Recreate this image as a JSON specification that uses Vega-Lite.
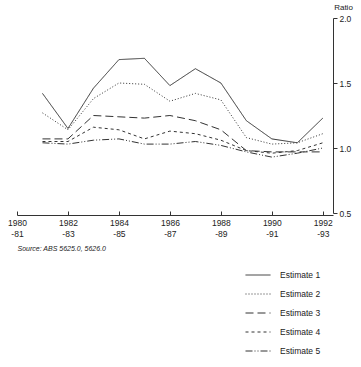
{
  "$schema": "https://vega.github.io/schema/vega-lite/v6.json",
  "autosize": "none",
  "width": 316,
  "height": 195,
  "padding": {"left": 17, "top": 18, "right": 28, "bottom": 154},
  "background": "white",
  "config": {"view": {"stroke": null}, "font": "Liberation Sans"},
  "data": {"values": [
    {"year": 1981, "series": "Estimate 1", "value": 1.42},
    {"year": 1982, "series": "Estimate 1", "value": 1.15},
    {"year": 1983, "series": "Estimate 1", "value": 1.46},
    {"year": 1984, "series": "Estimate 1", "value": 1.68},
    {"year": 1985, "series": "Estimate 1", "value": 1.69},
    {"year": 1986, "series": "Estimate 1", "value": 1.48},
    {"year": 1987, "series": "Estimate 1", "value": 1.61},
    {"year": 1988, "series": "Estimate 1", "value": 1.50},
    {"year": 1989, "series": "Estimate 1", "value": 1.21},
    {"year": 1990, "series": "Estimate 1", "value": 1.07},
    {"year": 1991, "series": "Estimate 1", "value": 1.04},
    {"year": 1992, "series": "Estimate 1", "value": 1.23},
    {"year": 1981, "series": "Estimate 2", "value": 1.27},
    {"year": 1982, "series": "Estimate 2", "value": 1.14},
    {"year": 1983, "series": "Estimate 2", "value": 1.38},
    {"year": 1984, "series": "Estimate 2", "value": 1.50},
    {"year": 1985, "series": "Estimate 2", "value": 1.49},
    {"year": 1986, "series": "Estimate 2", "value": 1.36},
    {"year": 1987, "series": "Estimate 2", "value": 1.42},
    {"year": 1988, "series": "Estimate 2", "value": 1.37},
    {"year": 1989, "series": "Estimate 2", "value": 1.08},
    {"year": 1990, "series": "Estimate 2", "value": 1.03},
    {"year": 1991, "series": "Estimate 2", "value": 1.04},
    {"year": 1992, "series": "Estimate 2", "value": 1.11},
    {"year": 1981, "series": "Estimate 3", "value": 1.07},
    {"year": 1982, "series": "Estimate 3", "value": 1.07},
    {"year": 1983, "series": "Estimate 3", "value": 1.25},
    {"year": 1984, "series": "Estimate 3", "value": 1.24},
    {"year": 1985, "series": "Estimate 3", "value": 1.23},
    {"year": 1986, "series": "Estimate 3", "value": 1.25},
    {"year": 1987, "series": "Estimate 3", "value": 1.21},
    {"year": 1988, "series": "Estimate 3", "value": 1.14},
    {"year": 1989, "series": "Estimate 3", "value": 0.98},
    {"year": 1990, "series": "Estimate 3", "value": 0.97},
    {"year": 1991, "series": "Estimate 3", "value": 0.97},
    {"year": 1992, "series": "Estimate 3", "value": 0.97},
    {"year": 1981, "series": "Estimate 4", "value": 1.05},
    {"year": 1982, "series": "Estimate 4", "value": 1.05},
    {"year": 1983, "series": "Estimate 4", "value": 1.16},
    {"year": 1984, "series": "Estimate 4", "value": 1.14},
    {"year": 1985, "series": "Estimate 4", "value": 1.07},
    {"year": 1986, "series": "Estimate 4", "value": 1.13},
    {"year": 1987, "series": "Estimate 4", "value": 1.11},
    {"year": 1988, "series": "Estimate 4", "value": 1.06},
    {"year": 1989, "series": "Estimate 4", "value": 0.98},
    {"year": 1990, "series": "Estimate 4", "value": 0.96},
    {"year": 1991, "series": "Estimate 4", "value": 0.98},
    {"year": 1992, "series": "Estimate 4", "value": 1.04},
    {"year": 1981, "series": "Estimate 5", "value": 1.04},
    {"year": 1982, "series": "Estimate 5", "value": 1.03},
    {"year": 1983, "series": "Estimate 5", "value": 1.06},
    {"year": 1984, "series": "Estimate 5", "value": 1.07},
    {"year": 1985, "series": "Estimate 5", "value": 1.03},
    {"year": 1986, "series": "Estimate 5", "value": 1.03},
    {"year": 1987, "series": "Estimate 5", "value": 1.05},
    {"year": 1988, "series": "Estimate 5", "value": 1.02},
    {"year": 1989, "series": "Estimate 5", "value": 0.97},
    {"year": 1990, "series": "Estimate 5", "value": 0.93},
    {"year": 1991, "series": "Estimate 5", "value": 0.96},
    {"year": 1992, "series": "Estimate 5", "value": 1.00}
  ]},
  "mark": {"type": "line", "stroke": "#333", "strokeWidth": 1, "clip": false},
  "encoding": {
    "x": {"field": "year", "type": "quantitative",
      "scale": {"domain": [1980, 1992.4], "nice": false, "zero": false},
      "axis": {"values": [1980, 1982, 1984, 1986, 1988, 1990, 1992], "grid": false, "offset": 2,
        "labelExpr": "[toString(datum.value), '-' + substring(toString(datum.value + 1), 2, 4)]",
        "labelFont": "Liberation Sans", "labelFontSize": 8.5, "labelColor": "#222", "labelPadding": 7, "labelLineHeight": 11,
        "tickSize": -4, "tickColor": "#333", "domainColor": "#333", "labelFlush": false,
        "title": "Source:  ABS 5625.0, 5626.0", "titleAnchor": "start", "titleAlign": "left", "titleX": 0,
        "titleFont": "Liberation Sans", "titleFontSize": 7, "titleFontStyle": "italic", "titleFontWeight": "normal",
        "titleColor": "#222", "titlePadding": 7}},
    "y": {"field": "value", "type": "quantitative",
      "scale": {"domain": [0.5, 2.0], "nice": false, "zero": false},
      "axis": {"orient": "right", "values": [0.5, 1.0, 1.5, 2.0], "format": ".1f", "grid": false,
        "labelFont": "Liberation Sans", "labelFontSize": 8.5, "labelColor": "#222", "labelPadding": 2,
        "tickSize": 4, "tickColor": "#333", "domainColor": "#333",
        "title": "Ratio", "titleAngle": 0, "titleFont": "Liberation Sans", "titleFontSize": 8, "titleFontWeight": "normal",
        "titleColor": "#222", "titleX": 10, "titleY": -11, "titleAlign": "center", "titleBaseline": "middle", "labelFlush": false}},
    "strokeDash": {"field": "series", "type": "nominal",
      "scale": {"domain": ["Estimate 1", "Estimate 2", "Estimate 3", "Estimate 4", "Estimate 5"],
        "range": [[1, 0], [1, 2], [8, 4], [3, 3], [7, 2, 1, 2, 1, 2]]},
      "legend": {"orient": "none", "legendX": 228, "legendY": 244, "title": null,
        "labelFont": "Liberation Sans", "labelFontSize": 8.5, "labelColor": "#222", "labelOffset": 9,
        "symbolSize": 625, "symbolStrokeColor": "#333", "symbolStrokeWidth": 1, "rowPadding": 1}}
  }
}
